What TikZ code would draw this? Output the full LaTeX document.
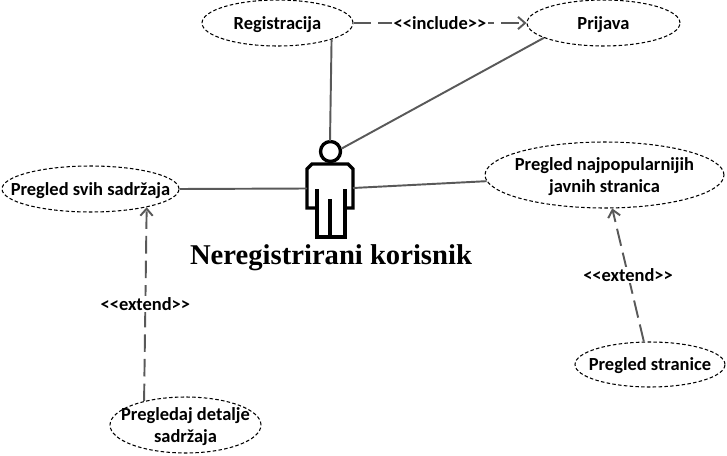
\documentclass[tikz,border=0pt]{standalone}
\usepackage{fontspec}
\setmainfont{Carlito}
\newfontfamily\titlefont{Liberation Serif}
\usetikzlibrary{shapes.geometric,arrows.meta}

\newcommand{\stereo}[1]{{<}{<}#1{>}{>}}

\tikzset{
  usecase/.style={draw,ellipse,dash pattern=on 2pt off 1.3pt,line width=0.6pt,inner sep=-1cm,align=center,text depth=0.4pt,font=\fontsize{10.5}{12.6}\selectfont\bfseries},
  assoc/.style={draw=black!65,line width=1.1pt},
  depend/.style={assoc,dash pattern=on 10pt off 4pt,-{Straight Barb[length=4pt,width=7pt]}},
  stereotype/.style={fill=white,inner sep=1pt,font=\fontsize{10.5}{12}\selectfont\bfseries},
  actorline/.style={line width=1.9pt}
}

\begin{document}
\begin{tikzpicture}[x=0.02cm,y=-0.02cm]
        \useasboundingbox (0,0) rectangle (727,456);

        % use cases
        \node[usecase,minimum width=3.02cm,minimum height=0.92cm] (registracija) at (277.5,23) {Registracija};
        \node[usecase,minimum width=3.06cm,minimum height=0.92cm] (prijava) at (603.5,23) {Prijava};
        \node[usecase,minimum width=3.54cm,minimum height=0.92cm] (svih) at (90.5,189) {Pregled svih sadržaja};
        \node[usecase,minimum width=4.78cm,minimum height=1.32cm] (najpop) at (604.5,175) {Pregled najpopularnijih\\javnih stranica};
        \node[usecase,minimum width=3.00cm,minimum height=0.90cm] (stranice) at (650,364.5) {Pregled stranice};
        \node[usecase,minimum width=3.02cm,minimum height=1.12cm] (detalji) at (185.5,425) {Pregledaj detalje\\sadržaja};

        % actor
        \node[draw,circle,actorline,minimum size=0.4cm,inner sep=0pt] (head) at (330.5,151.5) {};
        \coordinate (armL) at (307,188.5);
        \coordinate (armR) at (353,188);
        \draw[actorline] (317,208) -- (307,208) -- (307,169) -- (312,164) -- (348,164) -- (353,169) -- (353,208) -- (345,208);
        \draw[actorline] (317,189) -- (317,237) -- (345,237) -- (345,189);
        \draw[actorline] (330,199) -- (330,237);
        \node[font=\titlefont\fontsize{16.3}{18}\selectfont\bfseries] (actorname) at (331,258) {Neregistrirani korisnik};

        % connectors
        \draw[assoc] (registracija.-17) -- (330,141);
        \draw[assoc] (prijava.194) -- (head.15);
        \draw[assoc] (svih.east) -- (armL);
        \draw[assoc] (najpop.183) -- (armR);

        \draw[depend] (registracija.east) -- (prijava.west) node[midway,stereotype] {\stereo{include}};
        \draw[depend] (detalji.150) -- (svih.-18) node[midway,stereotype] {\stereo{extend}};
        \draw[depend] (stranice.105) -- (najpop.-77) node[midway,stereotype] {\stereo{extend}};
      \end{tikzpicture}
\end{document}
